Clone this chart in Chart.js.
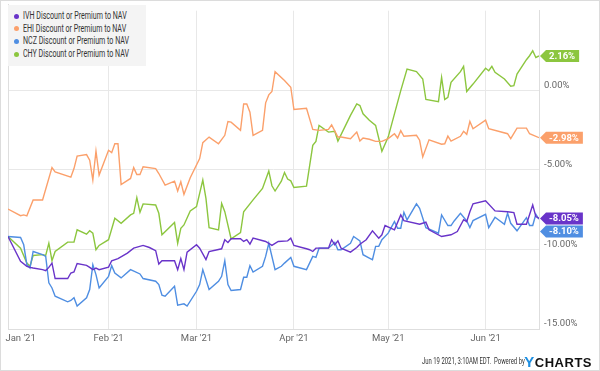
<!DOCTYPE html>
<html>
<head>
<meta charset="utf-8">
<script src="https://cdn.jsdelivr.net/npm/chart.js@4/dist/chart.umd.min.js"></script>
<style>
  html, body { margin: 0; padding: 0; background: #fff; }
  #wrap { position: relative; width: 600px; height: 371px; overflow: hidden; }
  #c { position: absolute; left: 0; top: 0; }
  #frame { position: absolute; left: 0; top: 0; width: 600px; height: 371px; box-sizing: border-box; border: 1px solid #dcdcdc; pointer-events: none; }
  #legend { position: absolute; left: 8px; top: 5px; width: 138px; height: 61px; background: #f4f4f4; font-family: Roboto, sans-serif; font-size: 10px; color: #333; }
  .li { position: absolute; left: 15px; height: 12px; line-height: 12px; white-space: nowrap; }
  .li .t { display: inline-block; transform: scaleX(0.71); transform-origin: left center; }
  .dot { position: absolute; left: -9px; top: 3.5px; width: 5px; height: 5px; border-radius: 50%; }
  #pre { position: absolute; right: 75px; top: 356px; font-family: Roboto, sans-serif; font-size: 9px; color: #333; white-space: nowrap; transform: scaleX(0.66); transform-origin: right center; }
  #logo { position: absolute; right: 8px; top: 353px; font-family: 'Liberation Sans', Arial, sans-serif; font-weight: bold; font-size: 13px; letter-spacing: 0.5px; color: #111; white-space: nowrap; }
  #logo span { color: #1e8fe1; font-size: 15px; }
</style>
</head>
<body>
<div id="wrap">
  <canvas id="c" width="600" height="371"></canvas>
  <div id="legend"></div>
  <div id="pre">Jun 19 2021, 3:10AM EDT.&nbsp; Powered by</div>
  <div id="logo"><span>Y</span>CHARTS</div>
  <div id="frame"></div>
</div>
<script>
// Days counted from Jan 1 2021 (Dec 31 2020 = -1)
const seriesNames = ["IVH Discount or Premium to NAV", "EHI Discount or Premium to NAV", "NCZ Discount or Premium to NAV", "CHY Discount or Premium to NAV"];
const seriesColors = ["#6934c9", "#fba06b", "#4f8ee2", "#8cc63f"];

const ivhDays = [-1,3,5,6,7,10,11,12,13,14,18,19,20,21,24,25,26,27,28,31,32,34,37,39,42,44,46,47,48,52,53,54,55,56,59,60,62,63,67,68,69,70,73,74,75,76,77,81,83,85,88,89,90,94,95,96,97,101,102,103,104,105,108,110,111,113,115,117,118,119,122,124,125,130,132,133,137,140,142,144,145,146,147,151,154,158,160,161,164,166,167,168];
const ivhValues = [-9.19,-10.75,-11.06,-11.13,-11.17,-11.27,-11.33,-11.13,-10.86,-11.83,-11.83,-11.48,-11.42,-10.89,-11.00,-11.13,-11.27,-11.17,-11.27,-11.11,-10.71,-10.58,-10.23,-9.92,-9.75,-9.88,-10.08,-10.92,-10.71,-10.71,-11.27,-10.58,-11.27,-10.17,-9.71,-9.92,-10.64,-10.13,-9.96,-9.39,-9.56,-9.33,-9.33,-9.50,-9.39,-9.67,-9.29,-9.50,-9.75,-9.50,-9.46,-9.29,-9.75,-9.96,-10.02,-10.13,-9.92,-9.92,-9.39,-9.71,-9.46,-9.92,-10.17,-9.88,-9.67,-9.39,-8.83,-9.29,-9.08,-8.50,-8.77,-7.83,-8.19,-8.42,-8.29,-8.77,-9.19,-9.08,-8.88,-8.13,-8.25,-7.63,-7.13,-6.94,-7.58,-7.63,-7.69,-8.42,-8.42,-7.21,-7.94,-8.05];

const ehiDays = [-1,3,4,5,7,10,13,14,19,20,21,24,25,26,27,28,31,32,33,34,35,38,39,40,41,42,46,47,49,52,53,54,55,57,60,61,63,66,68,69,70,73,74,75,76,77,80,81,82,83,84,87,89,90,94,96,98,101,102,104,105,108,110,111,112,114,116,118,120,122,123,124,125,129,130,131,133,137,138,139,140,143,144,145,146,147,151,152,158,159,161,164,165,168];
const ehiValues = [-7.46,-7.88,-7.83,-7.89,-6.89,-6.89,-4.86,-5.13,-5.46,-4.92,-4.13,-4.04,-4.39,-5.64,-3.83,-5.33,-3.77,-3.92,-3.36,-3.36,-5.92,-5.54,-4.86,-5.29,-5.29,-4.81,-4.92,-5.23,-5.96,-5.71,-6.33,-5.75,-6.54,-5.50,-4.29,-3.29,-2.94,-3.36,-2.83,-1.96,-2.00,-2.52,-0.86,-0.86,-1.38,-2.83,-2.52,-0.79,-0.29,-0.08,1.17,0.61,0.19,-1.21,-1.13,-2.46,-2.52,-2.46,-2.17,-2.94,-2.94,-3.04,-2.63,-3.19,-3.00,-3.08,-3.21,-3.21,-3.04,-2.73,-3.00,-2.54,-2.89,-2.83,-3.14,-4.19,-3.11,-3.39,-3.36,-2.88,-3.19,-2.89,-2.58,-2.77,-1.96,-2.42,-1.88,-2.42,-2.73,-3.04,-2.38,-2.38,-2.73,-2.98];

const nczDays = [-1,3,4,5,6,7,10,11,12,13,14,18,19,20,21,24,25,26,27,28,31,32,33,35,38,41,42,46,47,48,49,52,53,55,56,59,60,61,63,66,67,68,69,70,73,74,75,76,77,80,81,82,84,86,87,89,90,94,96,97,98,101,103,104,105,108,109,111,112,114,115,116,117,118,120,122,123,124,125,126,129,130,132,136,137,139,140,141,143,145,146,147,151,152,154,157,158,159,161,164,165,166,167,168];
const nczValues = [-9.19,-9.25,-9.71,-10.96,-11.17,-10.13,-10.33,-10.44,-12.10,-12.42,-12.94,-13.29,-13.21,-13.04,-13.56,-13.04,-12.52,-10.96,-11.58,-12.42,-11.69,-11.02,-11.48,-11.79,-11.27,-11.54,-11.83,-12.00,-12.21,-12.88,-12.94,-12.31,-13.50,-13.42,-13.56,-12.63,-12.21,-11.27,-12.52,-12.00,-11.69,-10.71,-12.21,-12.58,-12.52,-11.75,-11.75,-11.02,-11.42,-11.06,-10.44,-9.61,-11.27,-11.06,-10.86,-10.50,-11.06,-11.27,-10.44,-10.50,-9.92,-9.92,-9.56,-10.02,-10.02,-9.61,-9.19,-9.46,-10.33,-10.54,-10.64,-9.81,-9.81,-9.39,-8.98,-8.25,-8.67,-8.67,-7.67,-8.14,-7.14,-7.42,-8.63,-8.98,-7.83,-8.50,-8.50,-8.21,-7.73,-8.21,-8.63,-8.19,-7.79,-8.63,-7.98,-8.42,-7.73,-8.36,-8.83,-8.00,-8.50,-8.50,-7.79,-8.10];

const chyDays = [-1,3,5,6,7,10,11,12,13,14,18,20,21,24,25,26,27,28,31,33,35,38,39,40,41,42,46,47,48,52,53,54,55,57,59,61,62,63,66,67,68,70,73,74,77,80,82,83,84,86,87,88,89,90,94,96,97,98,101,103,104,108,110,111,112,114,116,118,120,122,124,126,129,131,132,136,137,138,139,140,143,144,145,147,151,152,153,154,157,159,160,161,164,165,166,167,168];
const chyValues = [-9.19,-9.92,-10.86,-11.06,-10.38,-10.33,-10.38,-9.61,-10.71,-10.13,-9.54,-9.54,-8.77,-9.04,-8.83,-8.98,-10.02,-9.75,-9.39,-8.04,-8.36,-7.83,-7.73,-6.75,-7.67,-7.14,-7.21,-7.73,-9.08,-8.31,-9.61,-8.67,-8.46,-7.58,-7.31,-5.64,-6.79,-8.63,-8.77,-7.11,-7.63,-9.33,-8.94,-7.63,-6.89,-6.17,-5.08,-6.00,-6.33,-5.71,-5.17,-5.58,-5.69,-6.11,-6.02,-3.46,-3.21,-2.21,-2.63,-2.58,-3.19,-1.58,-0.86,-0.96,-1.48,-1.89,-2.21,-3.83,-2.94,-1.48,-0.02,1.33,1.17,0.71,-0.58,-0.71,0.81,-0.58,-0.44,0.50,1.17,1.50,-0.08,0.39,1.38,1.23,1.50,1.13,0.71,0.25,0.29,1.02,1.92,2.17,2.48,2.06,2.16];

const xTickDays = [3, 31, 59, 90, 120, 151];
const xTickLabels = ["Jan '21", "Feb '21", "Mar '21", "Apr '21", "May '21", "Jun '21"];
const yTickValues = [-15, -10, -5, 0, 5];

const daySets = [ivhDays, ehiDays, nczDays, chyDays];
const valueSets = [ivhValues, ehiValues, nczValues, chyValues];

// legend (HTML)
const legend = document.getElementById('legend');
seriesNames.forEach((n, i) => {
  const d = document.createElement('div');
  d.className = 'li';
  d.style.top = (5 + i * 12.7) + 'px';
  d.innerHTML = '<span class="dot" style="background:' + seriesColors[i] + '"></span><span class="t">' + n + '</span>';
  legend.appendChild(d);
});

const FONT = "Roboto, sans-serif";

const datasets = seriesNames.map((n, i) => ({
  label: n,
  data: daySets[i].map((d, k) => ({ x: d, y: valueSets[i][k] })),
  borderColor: seriesColors[i],
  backgroundColor: seriesColors[i],
  borderWidth: 1.4,
  pointRadius: 0,
  tension: 0,
  fill: false
}));

const frameLines = {
  id: 'frameLines',
  beforeDatasetsDraw(chart) {
    const { ctx, chartArea } = chart;
    ctx.save();
    ctx.strokeStyle = '#dedede';
    ctx.lineWidth = 1;
    ctx.beginPath();
    ctx.moveTo(Math.round(chartArea.left) + 0.5, 4);
    ctx.lineTo(Math.round(chartArea.left) + 0.5, chartArea.bottom);
    ctx.stroke();
    ctx.restore();
  }
};

const badges = {
  id: 'badges',
  afterDatasetsDraw(chart) {
    const { ctx, chartArea } = chart;
    const ys = chart.scales.y;
    const items = chart.data.datasets.map((ds, i) => {
      const last = ds.data[ds.data.length - 1].y;
      return { y: ys.getPixelForValue(last), v: last, color: seriesColors[i] };
    }).sort((a, b) => a.y - b.y);
    for (let k = 1; k < items.length; k++) {
      if (items[k].y < items[k - 1].y + 13) items[k].y = items[k - 1].y + 13;
    }
    ctx.save();
    ctx.font = 'bold 9.5px ' + FONT;
    items.forEach(it => {
      const txt = it.v.toFixed(2) + '%';
      const tw = ctx.measureText(txt).width;
      const x0 = chartArea.right + 1;
      const h = 12;
      const aw = 6;
      const w = tw + 7;
      ctx.fillStyle = it.color;
      ctx.beginPath();
      ctx.moveTo(x0, it.y);
      ctx.lineTo(x0 + aw, it.y - h / 2);
      ctx.lineTo(x0 + aw + w, it.y - h / 2);
      ctx.lineTo(x0 + aw + w, it.y + h / 2);
      ctx.lineTo(x0 + aw, it.y + h / 2);
      ctx.closePath();
      ctx.fill();
      ctx.fillStyle = '#fff';
      ctx.textBaseline = 'middle';
      ctx.textAlign = 'left';
      ctx.fillText(txt, x0 + aw + 3, it.y + 0.5);
    });
    ctx.restore();
  }
};

new Chart(document.getElementById('c'), {
  type: 'line',
  data: { datasets },
  options: {
    responsive: false,
    animation: false,
    events: [],
    layout: { padding: { left: 8, top: 8, right: 0, bottom: 0 } },
    plugins: { legend: { display: false }, tooltip: { enabled: false } },
    scales: {
      x: {
        type: 'linear',
        min: -1,
        max: 168,
        afterBuildTicks(scale) { scale.ticks = xTickDays.map(v => ({ value: v })); },
        afterFit(scale) { scale.height = 42; },
        grid: {
          drawTicks: false,
          color: ctx => (ctx.tick && ctx.tick.value === xTickDays[0]) ? 'rgba(0,0,0,0)' : '#e8e8e8',
          lineWidth: 1
        },
        border: { display: true, color: '#dedede' },
        ticks: {
          autoSkip: false,
          maxRotation: 0,
          padding: 4,
          color: '#666',
          font: { family: FONT, size: 9.5 },
          callback: (v) => { const i = xTickDays.indexOf(v); return i >= 0 ? xTickLabels[i] : ''; }
        }
      },
      y: {
        position: 'right',
        min: -15,
        max: 5,
        afterBuildTicks(scale) { scale.ticks = yTickValues.map(v => ({ value: v })); },
        afterFit(scale) { scale.width = 61; },
        grid: {
          drawTicks: false,
          color: ctx => (ctx.tick && ctx.tick.value === 5) ? 'rgba(0,0,0,0)' : '#e8e8e8',
          lineWidth: 1
        },
        border: { display: true, color: '#dedede' },
        ticks: {
          padding: 5,
          labelOffset: -5,
          color: '#666',
          font: { family: FONT, size: 9.5 },
          callback: v => v === 5 ? '' : v.toFixed(2) + '%'
        }
      }
    }
  },
  plugins: [frameLines, badges]
});
</script>
</body>
</html>
